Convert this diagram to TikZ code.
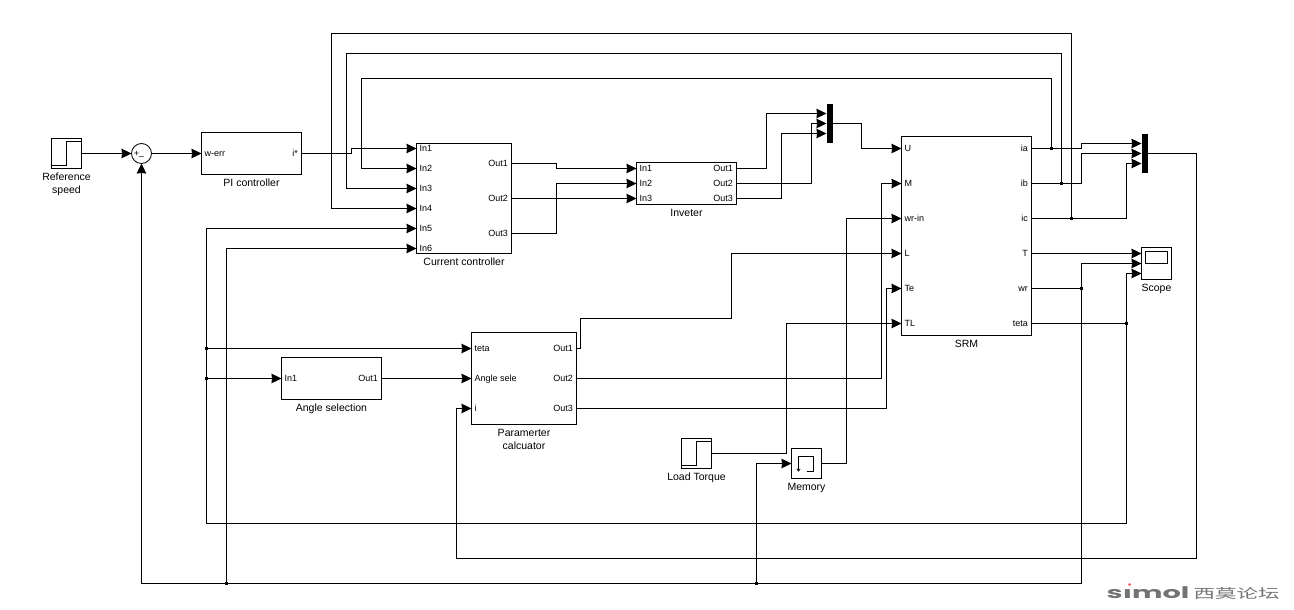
\documentclass[tikz,border=0pt]{standalone}
\usepackage{fontspec}
\setmainfont{Liberation Sans}
\newfontfamily\logofont{Poppins}
\newfontfamily\cjkfont{Noto Sans CJK SC}
\usetikzlibrary{arrows.meta,positioning}
\tikzset{
  block/.style={draw,line width=0.8pt,outer sep=0pt,inner sep=0pt},
  mux/.style={fill,outer sep=0pt,inner sep=0pt,minimum width=6pt,minimum height=39pt},
  blocklabel/.style={font=\fontsize{10.5}{13}\selectfont,align=center,inner sep=0pt},
  portin/.style={font=\fontsize{9}{10}\selectfont,anchor=west,xshift=3pt,inner sep=0pt,text height=6.5pt,text depth=0pt},
  portout/.style={font=\fontsize{9}{10}\selectfont,anchor=east,xshift=-3.5pt,inner sep=0pt,text height=6.5pt,text depth=0pt},
  wire/.style={line width=0.8pt},
  sig/.style={line width=0.8pt,-{Stealth[length=10pt,width=9.5pt,inset=0.5pt]}},
  dot/.style={fill,rectangle,inner sep=0pt,minimum size=3pt}
}
\begin{document}
\begin{tikzpicture}[x=1pt,y=-1pt,shift={(0.5,0.5)}]
\useasboundingbox (-0.5,-0.5) rectangle (1293.5,609.5);
% blocks
\node[block,minimum width=30pt,minimum height=30pt] (refstep) at (66,153) {};
\node[block,circle,minimum size=20pt] (sum) at (141,153) {};
\node[block,minimum width=100pt,minimum height=42pt] (pi) at (251,153) {};
\node[block,minimum width=95pt,minimum height=110pt] (cc) at (463.5,198) {};
\node[block,minimum width=100pt,minimum height=42pt] (inv) at (686,183) {};
\node[block,minimum width=130pt,minimum height=199pt] (srm) at (966,235.5) {};
\node[block,minimum width=100pt,minimum height=42pt] (ang) at (331,378) {};
\node[block,minimum width=105pt,minimum height=92pt] (param) at (523.5,378) {};
\node[block,minimum width=30pt,minimum height=30pt] (loadstep) at (696,453) {};
\node[block,minimum width=30pt,minimum height=30pt] (mem) at (806,463) {};
\node[block,minimum width=30pt,minimum height=32pt] (scope) at (1156,263) {};
\node[mux] (muxu) at (829,123) {};
\node[mux] (muxi) at (1144,153) {};
% block names
\node[blocklabel,below=4.5pt of refstep] (refname) {Reference\\speed};
\node[blocklabel,below=4.5pt of pi] (piname) {PI controller};
\node[blocklabel,below=4.5pt of cc] (ccname) {Current controller};
\node[blocklabel,below=4.5pt of inv] (invname) {Inveter};
\node[blocklabel,below=4.5pt of srm] (srmname) {SRM};
\node[blocklabel,below=4.5pt of ang] (angname) {Angle selection};
\node[blocklabel,below=4.5pt of param] (paramname) {Paramerter\\calcuator};
\node[blocklabel,below=4.5pt of loadstep] (loadname) {Load Torque};
\node[blocklabel,below=4.5pt of mem] (memname) {Memory};
\node[blocklabel,below=4.5pt of scope] (scopename) {Scope};
% ports
\foreach \blk/\nm/\txt/\yy in {pi/werr/w-err/153,
    cc/a/In1/148,cc/b/In2/168,cc/c/In3/188,cc/d/In4/208,cc/e/In5/228,cc/f/In6/248,
    inv/a/In1/168,inv/b/In2/183,inv/c/In3/198,
    srm/u/U/148,srm/m/M/183,srm/w/wr-in/218,srm/l/L/253,srm/e/Te/288,srm/t/TL/323,
    ang/a/In1/378,param/t/teta/348,param/a/Angle sele/378,param/i/i/408} {
  \coordinate (\blk\nm) at (\blk.west |- 0,\yy);
  \node[portin] (\blk\nm txt) at (\blk\nm) {\txt};
}
\foreach \blk/\nm/\txt/\yy in {pi/i/i*/153,
    cc/x/Out1/163,cc/y/Out2/198,cc/z/Out3/233,
    inv/x/Out1/168,inv/y/Out2/183,inv/z/Out3/198,
    srm/ia/ia/148,srm/ib/ib/183,srm/ic/ic/218,srm/tq/T/253,srm/wr/wr/288,srm/th/teta/323,
    ang/x/Out1/378,param/x/Out1/348,param/y/Out2/378,param/z/Out3/408} {
  \coordinate (\blk\nm) at (\blk.east |- 0,\yy);
  \node[portout] (\blk\nm txt) at (\blk\nm) {\txt};
}
\foreach \nm/\yy in {a/113,b/123,c/133} \coordinate (muxu\nm) at (muxu.west |- 0,\yy);
\foreach \nm/\yy in {a/143,b/153,c/163} \coordinate (muxi\nm) at (muxi.west |- 0,\yy);
\foreach \nm/\yy in {a/253,b/263,c/273} \coordinate (scope\nm) at (scope.west |- 0,\yy);
% icons inside the blocks
\draw[wire] (refstep.west |- 0,165) -- (66,165) -- (66,141) -- (refstep.east |- 0,141);
\draw[wire] (loadstep.west |- 0,465) -- (696,465) -- (696,441) -- (loadstep.east |- 0,441);
\draw[line width=0.7pt,-{To[length=3pt,width=4pt]}] (806,471) -- (813,471) -- (813,456) -- (798,456) -- (798,471);
\node[block,draw,fill=none,minimum width=22pt,minimum height=12pt] (scopescreen) at (1156,257) {};
\node[font=\fontsize{9}{9}\selectfont,inner sep=0pt] (sumplus) at (136,153) {+};
\node[font=\fontsize{9}{9}\selectfont,inner sep=0pt] (summinus) at (141,158) {--};
% junctions
\node[dot] (jia) at (1051,148) {};
\node[dot] (jib) at (1061,183) {};
\node[dot] (jic) at (1071,218) {};
\node[dot] (jwr) at (1081,288) {};
\node[dot] (jth) at (1126,323) {};
\node[dot] (jteta) at (206,348) {};
\node[dot] (jang) at (206,378) {};
\node[dot] (jspd) at (226,583) {};
\node[dot] (jmem) at (756,583) {};
% speed loop
\draw[sig] (refstep.east) -- (sum.west);
\draw[sig] (sum.east) -- (piwerr);
\draw[sig] (pii) -- (351,153) |- (cca);
\draw[sig] (jwr.center) -- (1081,583) -- (141,583) -- (sum.south);
\draw[sig] (jspd.center) |- (ccf);
\draw[sig] (jmem.center) |- (mem.west);
% current feedback over the top
\draw[sig] (jia.center) -- (1051,78) -- (361,78) |- (ccb);
\draw[sig] (jib.center) -- (1061,53) -- (346,53) |- (ccc);
\draw[sig] (jic.center) -- (1071,33) -- (331,33) |- (ccd);
% controller to inverter
\draw[sig] (ccx) -- (556,163) |- (inva);
\draw[sig] (ccy) -- (invc);
\draw[sig] (ccz) -- (556,233) |- (invb);
% inverter to mux and machine
\draw[sig] (invx) -- (766,168) |- (muxua);
\draw[sig] (invy) -- (811,183) |- (muxub);
\draw[sig] (invz) -- (781,198) |- (muxuc);
\draw[sig] (muxu.east) -- (861,123) |- (srmu);
% machine outputs
\draw[wire] (srmia) -- (jia.center);
\draw[sig] (jia.center) -- (1081,148) |- (muxia);
\draw[wire] (srmib) -- (jib.center);
\draw[sig] (jib.center) -- (1081,183) |- (muxib);
\draw[wire] (srmic) -- (jic.center);
\draw[sig] (jic.center) -- (1126,218) |- (muxic);
\draw[sig] (srmtq) -- (scopea);
\draw[wire] (srmwr) -- (jwr.center);
\draw[sig] (jwr.center) |- (scopeb);
\draw[wire] (srmth) -- (jth.center);
\draw[sig] (jth.center) |- (scopec);
\draw[sig] (muxi.east) -- (1196,153) -- (1196,558) -- (456,558) |- (parami);
% position feedback
\draw[sig] (jth.center) -- (1126,523) -- (206,523) |- (cce);
\draw[sig] (jteta.center) -- (paramt);
\draw[sig] (jang.center) -- (anga);
\draw[sig] (angx) -- (parama);
% parameter outputs
\draw[sig] (paramx) -- (580,348) -- (580,318) -- (731,318) |- (srml);
\draw[sig] (paramy) -- (881,378) |- (srmm);
\draw[sig] (paramz) -- (886,408) |- (srme);
% load and memory
\draw[sig] (loadstep.east) -- (786,453) |- (srmt);
\draw[sig] (mem.east) -- (846,463) |- (srmw);
% site mark
\node[anchor=base west,inner sep=0pt,text=black!55,font=\logofont\bfseries\fontsize{16}{16}\selectfont] (logo) at (1106,598) {\scalebox{1.8}[1]{s\i mol}};
\node[circle,fill=red!65,inner sep=0pt,minimum size=3pt] (logodot) at (1129,584) {};
\node[anchor=base west,inner sep=0pt,text=black!55,font=\cjkfont\fontsize{13}{13}\selectfont] (logocn) at (1193,598) {\scalebox{1.65}[1]{西莫论坛}};
\end{tikzpicture}
\end{document}
